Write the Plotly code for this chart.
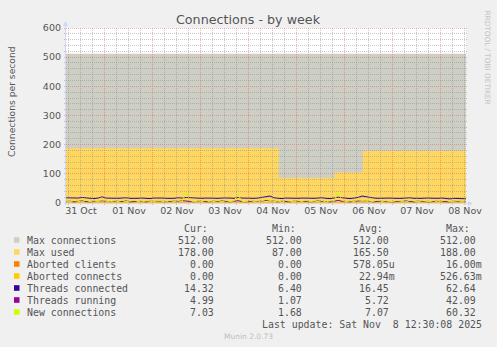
import plotly.graph_objects as go
import pandas as pd

# ---------------- data ----------------
TITLE = "Connections - by week"
Y_LABEL = "Connections per second"
START = "2025-10-31 04:30:08"
END = "2025-11-08 12:30:08"
Y_TICKS = [0, 100, 200, 300, 400, 500, 600]

MAX_CONN_T = [START, END]
MAX_CONN = [512, 512]

MAX_USED_T = ["2025-10-31 04:30:08", "2025-11-04 14:54", "2025-11-05 18:45",
              "2025-11-06 08:54", END]
MAX_USED = [188, 87, 105, 178, 178]

ABORTED_T = [START, END]
ABORTED_CLIENTS = [0.0, 0.0]
ABORTED_CONNECTS = [0.0, 0.0]

# samples every 2 hours
THREADS_CONNECTED = [
    18, 17, 16, 17, 19, 18, 16, 15, 17, 21, 17, 16, 15, 16, 17, 18, 16, 15, 16, 17,
    16, 15, 17, 18, 17, 16, 15, 16, 18, 17, 19, 18, 16, 15, 16, 17, 16, 15, 16, 17,
    18, 17, 16, 19, 17, 16, 15, 16, 17, 19, 22, 24, 18, 16, 15, 17, 16, 15, 16, 17,
    16, 15, 16, 17, 18, 16, 15, 17, 20, 18, 16, 15, 17, 19, 24, 21, 18, 17, 16, 17,
    18, 17, 16, 15, 16, 17, 18, 16, 15, 16, 17, 16, 15, 16, 17, 15, 14, 16, 15, 14, 14.32]
THREADS_RUNNING = [
    5, 6, 4, 5, 7, 5, 4, 6, 5, 8, 5, 4, 6, 5, 5, 7, 4, 5, 6, 5,
    4, 6, 5, 7, 5, 4, 6, 5, 6, 8, 7, 5, 4, 6, 5, 5, 4, 6, 5, 7,
    5, 4, 6, 8, 5, 4, 6, 5, 5, 7, 9, 8, 5, 4, 6, 5, 4, 6, 5, 5,
    6, 4, 5, 7, 6, 5, 4, 6, 9, 6, 5, 4, 6, 7, 8, 6, 5, 4, 6, 5,
    6, 5, 4, 6, 5, 7, 5, 4, 6, 5, 5, 4, 6, 5, 6, 5, 4, 6, 5, 4, 4.99]
NEW_CONNECTIONS = [
    7, 4, 9, 6, 3, 10, 5, 8, 4, 11, 6, 3, 8, 5, 9, 4, 7, 10, 5, 3,
    8, 6, 4, 9, 7, 3, 10, 5, 8, 6, 35, 9, 4, 7, 5, 10, 3, 6, 8, 4,
    9, 5, 7, 28, 6, 4, 10, 5, 3, 8, 12, 9, 5, 7, 3, 9, 6, 4, 8, 5,
    10, 4, 7, 5, 9, 3, 8, 6, 36, 10, 4, 8, 5, 11, 9, 6, 3, 7, 10, 5,
    8, 4, 6, 9, 5, 3, 10, 7, 4, 8, 6, 5, 9, 3, 7, 10, 4, 6, 8, 5, 7.03]
SAMPLE_T = pd.date_range(START, periods=len(THREADS_CONNECTED), freq="2h")

LEGEND_NAMES = ["Max connections", "Max used", "Aborted clients", "Aborted connects",
                "Threads connected", "Threads running", "New connections"]
LEGEND_COLORS = ["#cdcfc4", "#ffd660", "#ff8000", "#ffcc00", "#330099", "#990099", "#ccff00"]
CUR = ["512.00", "178.00", "0.00", "0.00", "14.32", "4.99", "7.03"]
MIN = ["512.00", "87.00", "0.00", "0.00", "6.40", "1.07", "1.68"]
AVG = ["512.00", "165.50", "578.05u", "22.94m", "16.45", "5.72", "7.07"]
MAX = ["512.00", "188.00", "16.00m", "526.63m", "62.64", "42.09", "60.32"]
HEADERS = ["Cur:", "Min:", "Avg:", "Max:"]
LAST_UPDATE = "Last update: Sat Nov  8 12:30:08 2025"
WATERMARK = "Munin 2.0.73"
SIDE_TEXT = "RRDTOOL / TOBI OETIKER"

# ---------------- layout constants ----------------
W_FIG, H_FIG = 497, 347
L, T, W, H = 66, 28, 400, 175
FONT = "DejaVu Sans"
MONO = "DejaVu Sans Mono"
TXT = "#555555"
GRID = "rgba(143,143,143,0.5)"
MGRID = "rgba(222,79,79,0.42)"
AXIS = "#CFD6F8"
Y_MAX = 600
T0 = pd.Timestamp(START)
T1 = pd.Timestamp(END)


def px(x):
    return (x - L) / W


def py(y):
    return (T + H - y) / H


def snap_y(v):
    # pixel row of a y value (through the axis scale), snapped for a crisp 1px line
    return round(T + H - v / Y_MAX * H - 0.5) + 0.5


def snap_x(t):
    return round(L + (t - T0) / (T1 - T0) * W - 0.5) + 0.5


fig = go.Figure()
fig.add_trace(go.Scatter(x=MAX_CONN_T, y=MAX_CONN, mode="lines", fill="tozeroy",
                         fillcolor=LEGEND_COLORS[0], line=dict(width=0, color=LEGEND_COLORS[0])))
fig.add_trace(go.Scatter(x=MAX_USED_T, y=MAX_USED, mode="lines", fill="tozeroy", line_shape="hv",
                         fillcolor=LEGEND_COLORS[1], line=dict(width=0, color=LEGEND_COLORS[1])))
fig.add_trace(go.Scatter(x=ABORTED_T, y=ABORTED_CLIENTS, mode="lines",
                         line=dict(width=1, color=LEGEND_COLORS[2])))
fig.add_trace(go.Scatter(x=ABORTED_T, y=ABORTED_CONNECTS, mode="lines",
                         line=dict(width=1, color=LEGEND_COLORS[3])))
fig.add_trace(go.Scatter(x=SAMPLE_T, y=THREADS_CONNECTED, mode="lines",
                         line=dict(width=1, color=LEGEND_COLORS[4])))
fig.add_trace(go.Scatter(x=SAMPLE_T, y=THREADS_RUNNING, mode="lines",
                         line=dict(width=1, color=LEGEND_COLORS[5])))
fig.add_trace(go.Scatter(x=SAMPLE_T, y=NEW_CONNECTIONS, mode="lines",
                         line=dict(width=1, color=LEGEND_COLORS[6])))

shapes = []
# horizontal grid
for v in range(20, Y_MAX + 1, 20):
    yy = py(snap_y(v))
    shapes.append(dict(type="line", xref="paper", yref="paper", x0=px(L - 2), x1=px(L + W + 2),
                       y0=yy, y1=yy, layer="above",
                       line=dict(color=MGRID if v % 100 == 0 else GRID, width=1, dash="1px,1px")))
# vertical grid
for t in pd.date_range("2025-10-31 06:00", END, freq="6h"):
    xx = px(snap_x(t))
    shapes.append(dict(type="line", xref="paper", yref="paper", x0=xx, x1=xx,
                       y0=py(T + H + 2), y1=py(T), layer="above",
                       line=dict(color=MGRID if t.hour == 0 else GRID, width=1, dash="1px,1px")))
# axes with arrows
shapes.append(dict(type="line", xref="paper", yref="paper", x0=px(L - 0.5), x1=px(L - 0.5),
                   y0=py(T + H + 2), y1=py(T - 4), layer="above", line=dict(color=AXIS, width=1)))
shapes.append(dict(type="line", xref="paper", yref="paper", x0=px(L - 2), x1=px(L + W + 4),
                   y0=py(T + H + 0.5), y1=py(T + H + 0.5), layer="above", line=dict(color=AXIS, width=1)))
shapes.append(dict(type="path", xref="paper", yref="paper", layer="above",
                   path=f"M {px(L-3)} {py(T-2)} L {px(L-0.5)} {py(T-7)} L {px(L+2)} {py(T-2)} Z",
                   fillcolor=AXIS, line=dict(width=0)))
shapes.append(dict(type="path", xref="paper", yref="paper", layer="above",
                   path=f"M {px(L+W+2)} {py(T+H-2)} L {px(L+W+7)} {py(T+H+0.5)} L {px(L+W+2)} {py(T+H+3)} Z",
                   fillcolor=AXIS, line=dict(width=0)))

ann = []
ann.append(dict(text=TITLE, xref="paper", yref="paper", x=px(248.5), y=py(20), showarrow=False,
                xanchor="center", yanchor="middle", font=dict(family=FONT, size=12.7, color=TXT)))
ann.append(dict(text=Y_LABEL, xref="paper", yref="paper", x=px(11), y=py(101), showarrow=False,
                textangle=-90, xanchor="center", yanchor="middle",
                font=dict(family=FONT, size=9.2, color=TXT)))
ann.append(dict(text=SIDE_TEXT, xref="paper", yref="paper", x=px(487.5), y=py(57), showarrow=False,
                textangle=90, xanchor="center", yanchor="middle",
                font=dict(family=FONT, size=7.3, color="#c4c4c4")))

ROW0 = 240
ROW_STEP = 12
VAL_END = [215, 303, 389.5, 477]
HEAD_END = [208.5, 296.5, 383.5, 471]
for j, h in enumerate(HEADERS):
    ann.append(dict(text=h, xref="paper", yref="paper", x=px(HEAD_END[j] + 1), y=py(228.5),
                    showarrow=False, xanchor="right", yanchor="middle",
                    font=dict(family=MONO, size=9.9, color=TXT)))
for i, name in enumerate(LEGEND_NAMES):
    yc = ROW0 + ROW_STEP * i
    shapes.append(dict(type="rect", xref="paper", yref="paper", x0=px(14), x1=px(19.5),
                       y0=py(yc - 2.8), y1=py(yc + 2.8), fillcolor=LEGEND_COLORS[i],
                       line=dict(width=0)))
    ann.append(dict(text=name, xref="paper", yref="paper", x=px(25), y=py(yc), showarrow=False,
                    xanchor="left", yanchor="middle", font=dict(family=MONO, size=9.9, color=TXT)))
    for j, col in enumerate([CUR, MIN, AVG, MAX]):
        s = col[i]
        end = VAL_END[j] + (6 if s[-1].isalpha() else 0)
        ann.append(dict(text=s, xref="paper", yref="paper", x=px(end + 1), y=py(yc),
                        showarrow=False, xanchor="right", yanchor="middle",
                        font=dict(family=MONO, size=9.9, color=TXT)))
ann.append(dict(text=LAST_UPDATE.replace("  ", "&nbsp; "), xref="paper", yref="paper",
                x=px(483.5), y=py(324), showarrow=False, xanchor="right", yanchor="middle",
                font=dict(family=MONO, size=9.9, color=TXT)))
ann.append(dict(text=WATERMARK, xref="paper", yref="paper", x=px(248), y=py(336), showarrow=False,
                xanchor="center", yanchor="middle", font=dict(family=FONT, size=7.5, color="#bdbdbd")))

fig.update_layout(
    width=W_FIG, height=H_FIG, autosize=False,
    margin=dict(l=L, r=W_FIG - L - W, t=T, b=H_FIG - T - H, pad=0),
    paper_bgcolor="#F0F0F0", plot_bgcolor="#FFFFFF",
    showlegend=False, shapes=shapes, annotations=ann,
    xaxis=dict(type="date", range=[START, END], showgrid=False, zeroline=False, showline=False,
               tickmode="linear", tick0="2025-10-31 00:00", dtick=86400000,
               tickformat="%d %b", ticklabelmode="period", ticks="",
               tickfont=dict(family=FONT, size=9.5, color=TXT), fixedrange=True),
    yaxis=dict(range=[0, Y_MAX], tickvals=Y_TICKS, showgrid=False, zeroline=False, showline=False,
               ticks="", ticklabelstandoff=4,
               tickfont=dict(family=FONT, size=9.5, color=TXT), fixedrange=True),
)

fig.write_html("out.html")
